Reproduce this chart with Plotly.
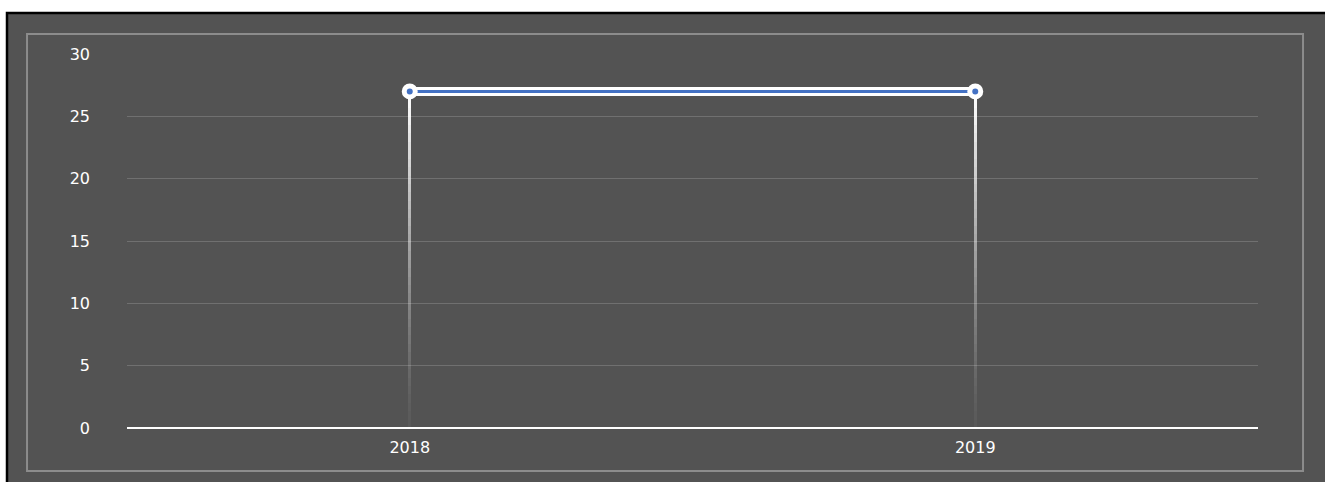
import plotly.graph_objects as go

categories = ["2018", "2019"]
values = [27, 27]
y_ticks = [0, 5, 10, 15, 20, 25, 30]

BG = "#535353"
N_SEG = 40

fig = go.Figure()

# drop lines as fading stacked thin bars
for k in range(N_SEG):
    alpha = 0.04 + 0.96 * (k / (N_SEG - 1)) ** 1.3
    fig.add_trace(go.Bar(
        x=categories,
        y=[v / N_SEG for v in values],
        base=[v * k / N_SEG for v in values],
        width=0.0055,
        marker=dict(color=f"rgba(255,255,255,{alpha:.3f})", line=dict(width=0)),
        hoverinfo="skip",
        showlegend=False,
    ))

fig.add_trace(go.Scatter(
    x=categories, y=values, mode="lines",
    line=dict(color="white", width=9),
    hoverinfo="skip", showlegend=False,
))
fig.add_trace(go.Scatter(
    x=categories, y=values, mode="lines+markers",
    line=dict(color="#4472C4", width=3),
    marker=dict(size=11, color="#4472C4", line=dict(color="white", width=5)),
    showlegend=False,
))

fig.update_layout(
    width=1325, height=482,
    margin=dict(l=127, r=67, t=54, b=54),
    paper_bgcolor="white",
    plot_bgcolor=BG,
    barmode="overlay",
    bargap=0,
    font=dict(family="DejaVu Sans", color="white", size=16),
    shapes=[
        dict(type="rect", xref="paper", yref="paper",
             x0=-0.1061, x1=1.07, y0=-0.17, y1=1.1096,
             line=dict(color="black", width=2.5), fillcolor=BG, layer="below"),
        dict(type="rect", xref="paper", yref="paper",
             x0=-0.0884, x1=1.0398, y0=-0.115, y1=1.0535,
             line=dict(color="#8c8c8c", width=2), fillcolor="rgba(0,0,0,0)", layer="below"),
    ],
)
fig.update_xaxes(
    type="category", categoryorder="array", categoryarray=categories,
    showgrid=False, showline=False, zeroline=False,
    tickfont=dict(size=16, color="white"),
    ticks="outside", ticklen=5, tickcolor="rgba(0,0,0,0)",
)
fig.update_yaxes(
    range=[0, 30], tickvals=y_ticks,
    showgrid=True, gridcolor="#707070", gridwidth=1,
    zeroline=True, zerolinecolor="white", zerolinewidth=2,
    showline=False,
    tickfont=dict(size=16, color="white"),
    ticklabelstandoff=36,
)

fig.write_html("out.html", config={"displayModeBar": False},
               post_script="document.body.style.margin='0';")
